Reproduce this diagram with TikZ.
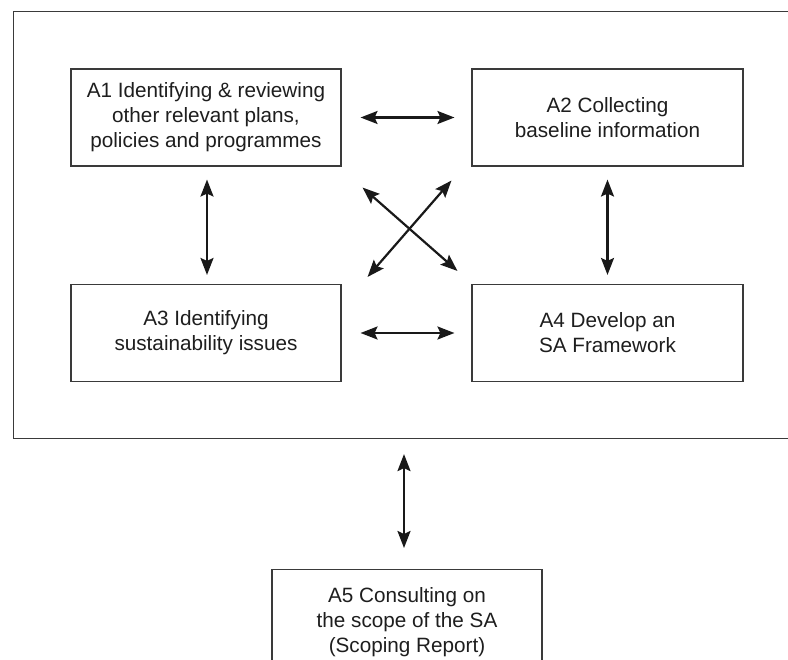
\documentclass[tikz,border=0pt]{standalone}
\usepackage{fontspec}
\setmainfont{Liberation Sans}
\usetikzlibrary{arrows.meta,calc}
\definecolor{txt}{HTML}{1E1E1E}
\definecolor{edge}{HTML}{3A3A3A}
\tikzset{
  box/.style={draw=edge, line width=1.1pt, minimum width=270pt, minimum height=97pt,
    align=center, text=txt, inner sep=0pt,
    font=\fontsize{20.7pt}{25pt}\selectfont},
  tip/.tip={Stealth[length=17pt,width=13pt,inset=3pt]},
  arr/.style={draw=black!90, line width=2.2pt, tip-tip}
}
\begin{document}
\begin{tikzpicture}[x=1pt,y=1pt]
\useasboundingbox (0,0) rectangle (788,-660);
\clip (0,0) rectangle (788,-660);
\fill[white] (0,0) rectangle (788,-660);
\node[draw=edge, line width=1.1pt, anchor=north west, minimum width=790pt, minimum height=427pt, inner sep=0pt] (frame) at (13,-11) {};
\node[box] (A1) at (206,-117.5) {A1 Identifying \& reviewing\\other relevant plans,\\policies and programmes};
\node[box, minimum width=271pt] (A2) at (607.5,-117.5) {A2 Collecting\\baseline information};
\node[box] (A3) at (206,-333) {A3 Identifying\\sustainability issues};
\node[box, minimum width=271pt] (A4) at (607.5,-333) {A4 Develop an\\SA Framework};
\node[box, anchor=north, minimum height=106pt] (A5) at (407,-569) {A5 Consulting on\\the scope of the SA\\(Scoping Report)};
\draw[arr] ($(A1.east)+(19,0)$) -- ($(A2.west)+(-17,0)$);
\draw[arr] ($(A3.east)+(19,0)$) -- ($(A4.west)+(-17,0)$);
\draw[arr] ($(A1.south)+(1,-13)$) -- ($(A3.north)+(1,9)$);
\draw[arr] ($(A2.south)+(0,-13)$) -- ($(A4.north)+(0,9)$);
\draw[arr] ($(A1.south east)+(21,-21)$) -- ($(A4.north west)+(-14,13)$);
\draw[arr] ($(A3.north east)+(26,7)$) -- ($(A2.south west)+(-20,-14)$);
\draw[arr] ($(frame.south -| A5.north)+(-3,-15)$) -- ($(A5.north)+(-3,21)$);
\end{tikzpicture}
\end{document}
